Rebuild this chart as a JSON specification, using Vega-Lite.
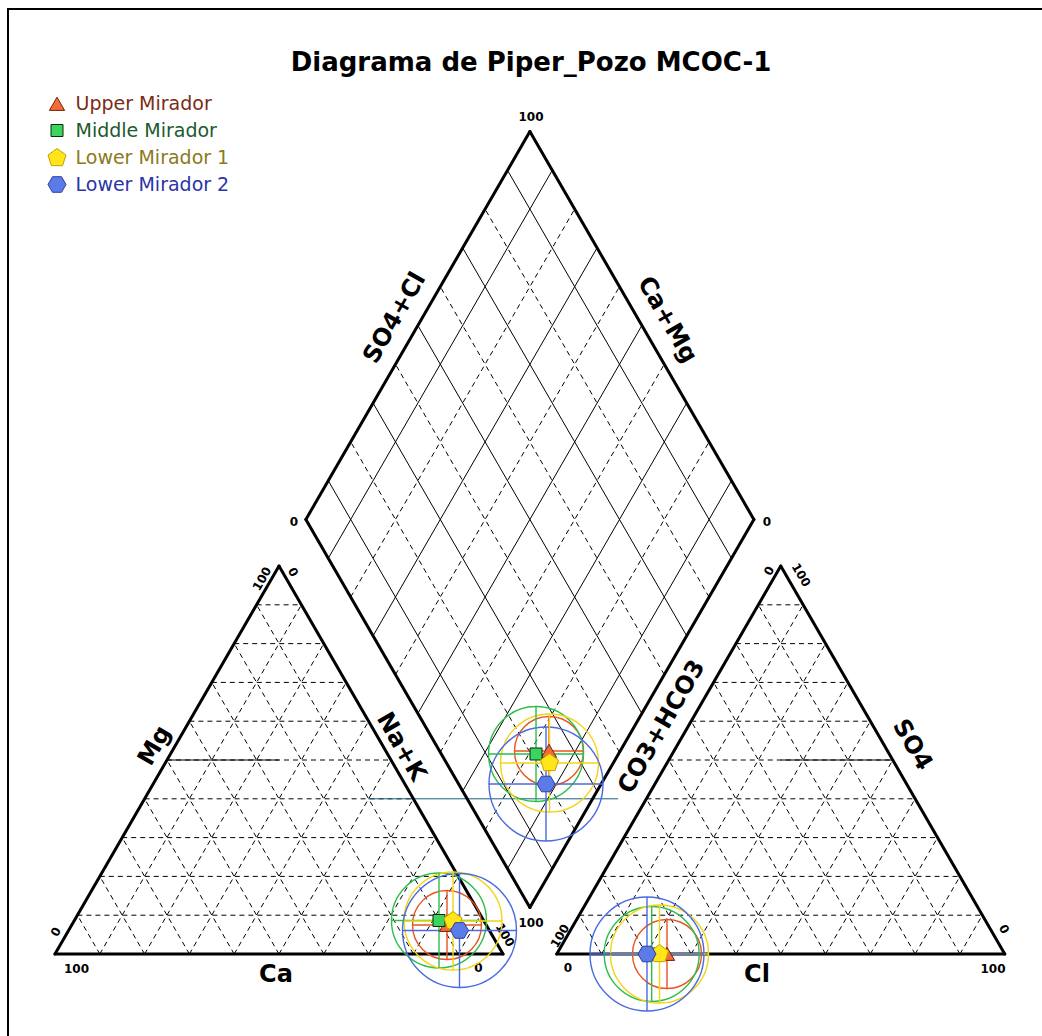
{
  "$schema": "https://vega.github.io/schema/vega-lite/v6.json",
  "width": 1040,
  "height": 1040,
  "autosize": {"type": "none"},
  "padding": {"left": 8, "top": 9, "right": 0, "bottom": 0},
  "background": "white",
  "title": {"text": "Diagrama de Piper_Pozo MCOC-1", "font": "DejaVu Sans", "fontWeight": "bold", "fontSize": 26, "color": "black", "anchor": "middle", "frame": "group", "baseline": "alphabetic", "offset": 0, "dy": 88, "dx": 3},
  "config": {
    "view": {"stroke": "black", "strokeWidth": 2},
    "legend": {"orient": "none", "legendX": 38.5, "legendY": 84.5, "padding": 0, "labelFont": "DejaVu Sans", "labelFontSize": 19, "labelOffset": 8, "rowPadding": 5.5, "symbolSize": 400, "symbolStrokeWidth": 1, "symbolOpacity": 1}
  },
  "datasets": {
    "outline": [
      {"x": 0, "y": 0, "x2": 100, "y2": 0},
      {"x": 100, "y": 0, "x2": 50, "y2": 86.603},
      {"x": 50, "y": 86.603, "x2": 0, "y2": 0},
      {"x": 112, "y": 0, "x2": 212, "y2": 0},
      {"x": 212, "y": 0, "x2": 162, "y2": 86.603},
      {"x": 162, "y": 86.603, "x2": 112, "y2": 0},
      {"x": 106, "y": 10.392, "x2": 56, "y2": 96.995},
      {"x": 56, "y": 96.995, "x2": 106, "y2": 183.598},
      {"x": 106, "y": 183.598, "x2": 156, "y2": 96.995},
      {"x": 156, "y": 96.995, "x2": 106, "y2": 10.392}
    ],
    "solid": [
      {"x": 111, "y": 19.053, "x2": 61, "y2": 105.655},
      {"x": 121, "y": 36.373, "x2": 71, "y2": 122.976},
      {"x": 131, "y": 53.694, "x2": 81, "y2": 140.296},
      {"x": 141, "y": 71.014, "x2": 91, "y2": 157.617},
      {"x": 151, "y": 88.335, "x2": 101, "y2": 174.937},
      {"x": 101, "y": 19.053, "x2": 151, "y2": 105.655},
      {"x": 91, "y": 36.373, "x2": 141, "y2": 122.976},
      {"x": 81, "y": 53.694, "x2": 131, "y2": 140.296},
      {"x": 71, "y": 71.014, "x2": 121, "y2": 157.617},
      {"x": 61, "y": 88.335, "x2": 111, "y2": 174.937},
      {"x": 25, "y": 43.301, "x2": 50, "y2": 43.301},
      {"x": 162, "y": 43.301, "x2": 187, "y2": 43.301}
    ],
    "dashed": [
      {"x": 116, "y": 27.713, "x2": 66, "y2": 114.315},
      {"x": 126, "y": 45.033, "x2": 76, "y2": 131.636},
      {"x": 136, "y": 62.354, "x2": 86, "y2": 148.957},
      {"x": 146, "y": 79.674, "x2": 96, "y2": 166.277},
      {"x": 96, "y": 27.713, "x2": 146, "y2": 114.315},
      {"x": 86, "y": 45.033, "x2": 136, "y2": 131.636},
      {"x": 76, "y": 62.354, "x2": 126, "y2": 148.957},
      {"x": 66, "y": 79.674, "x2": 116, "y2": 166.277},
      {"x": 5, "y": 8.660, "x2": 95, "y2": 8.660},
      {"x": 10, "y": 17.321, "x2": 90, "y2": 17.321},
      {"x": 15, "y": 25.981, "x2": 85, "y2": 25.981},
      {"x": 20, "y": 34.641, "x2": 80, "y2": 34.641},
      {"x": 25, "y": 43.301, "x2": 75, "y2": 43.301},
      {"x": 30, "y": 51.962, "x2": 70, "y2": 51.962},
      {"x": 35, "y": 60.622, "x2": 65, "y2": 60.622},
      {"x": 40, "y": 69.282, "x2": 60, "y2": 69.282},
      {"x": 45, "y": 77.942, "x2": 55, "y2": 77.942},
      {"x": 10, "y": 0, "x2": 55, "y2": 77.942},
      {"x": 20, "y": 0, "x2": 60, "y2": 69.282},
      {"x": 30, "y": 0, "x2": 65, "y2": 60.622},
      {"x": 40, "y": 0, "x2": 70, "y2": 51.962},
      {"x": 50, "y": 0, "x2": 75, "y2": 43.301},
      {"x": 60, "y": 0, "x2": 80, "y2": 34.641},
      {"x": 70, "y": 0, "x2": 85, "y2": 25.981},
      {"x": 80, "y": 0, "x2": 90, "y2": 17.321},
      {"x": 90, "y": 0, "x2": 95, "y2": 8.660},
      {"x": 10, "y": 0, "x2": 5, "y2": 8.660},
      {"x": 20, "y": 0, "x2": 10, "y2": 17.321},
      {"x": 30, "y": 0, "x2": 15, "y2": 25.981},
      {"x": 40, "y": 0, "x2": 20, "y2": 34.641},
      {"x": 50, "y": 0, "x2": 25, "y2": 43.301},
      {"x": 60, "y": 0, "x2": 30, "y2": 51.962},
      {"x": 70, "y": 0, "x2": 35, "y2": 60.622},
      {"x": 80, "y": 0, "x2": 40, "y2": 69.282},
      {"x": 90, "y": 0, "x2": 45, "y2": 77.942},
      {"x": 117, "y": 8.660, "x2": 207, "y2": 8.660},
      {"x": 122, "y": 17.321, "x2": 202, "y2": 17.321},
      {"x": 127, "y": 25.981, "x2": 197, "y2": 25.981},
      {"x": 132, "y": 34.641, "x2": 192, "y2": 34.641},
      {"x": 137, "y": 43.301, "x2": 187, "y2": 43.301},
      {"x": 142, "y": 51.962, "x2": 182, "y2": 51.962},
      {"x": 147, "y": 60.622, "x2": 177, "y2": 60.622},
      {"x": 152, "y": 69.282, "x2": 172, "y2": 69.282},
      {"x": 157, "y": 77.942, "x2": 167, "y2": 77.942},
      {"x": 122, "y": 0, "x2": 167, "y2": 77.942},
      {"x": 132, "y": 0, "x2": 172, "y2": 69.282},
      {"x": 142, "y": 0, "x2": 177, "y2": 60.622},
      {"x": 152, "y": 0, "x2": 182, "y2": 51.962},
      {"x": 162, "y": 0, "x2": 187, "y2": 43.301},
      {"x": 172, "y": 0, "x2": 192, "y2": 34.641},
      {"x": 182, "y": 0, "x2": 197, "y2": 25.981},
      {"x": 192, "y": 0, "x2": 202, "y2": 17.321},
      {"x": 202, "y": 0, "x2": 207, "y2": 8.660},
      {"x": 122, "y": 0, "x2": 117, "y2": 8.660},
      {"x": 132, "y": 0, "x2": 122, "y2": 17.321},
      {"x": 142, "y": 0, "x2": 127, "y2": 25.981},
      {"x": 152, "y": 0, "x2": 132, "y2": 34.641},
      {"x": 162, "y": 0, "x2": 137, "y2": 43.301},
      {"x": 172, "y": 0, "x2": 142, "y2": 51.962},
      {"x": 182, "y": 0, "x2": 147, "y2": 60.622},
      {"x": 192, "y": 0, "x2": 152, "y2": 69.282},
      {"x": 202, "y": 0, "x2": 157, "y2": 77.942}
    ],
    "proj": [
      {"x": 69.9, "y": 34.641, "x2": 125.7, "y2": 34.641}
    ],
    "pts": [
      {"series": "Upper Mirador", "plot": "cation", "x": 87.50, "y": 6.47},
      {"series": "Middle Mirador", "plot": "cation", "x": 85.71, "y": 7.48},
      {"series": "Lower Mirador 1", "plot": "cation", "x": 88.84, "y": 7.37},
      {"series": "Lower Mirador 2", "plot": "cation", "x": 90.29, "y": 5.25},
      {"series": "Upper Mirador", "plot": "anion", "x": 136.61, "y": 0},
      {"series": "Middle Mirador", "plot": "anion", "x": 133.19, "y": 0},
      {"series": "Lower Mirador 1", "plot": "anion", "x": 134.93, "y": 0},
      {"series": "Lower Mirador 2", "plot": "anion", "x": 132.14, "y": 0},
      {"series": "Upper Mirador", "plot": "diamond", "x": 110.27, "y": 45.31},
      {"series": "Middle Mirador", "plot": "diamond", "x": 107.37, "y": 44.64},
      {"series": "Lower Mirador 1", "plot": "diamond", "x": 110.38, "y": 42.63},
      {"series": "Lower Mirador 2", "plot": "diamond", "x": 109.60, "y": 37.95}
    ],
    "labels": [
      {"text": "Ca", "x": 49.33, "y": -4.69, "kind": "title", "dir": "flat"},
      {"text": "Cl", "x": 156.70, "y": -4.69, "kind": "title", "dir": "flat"},
      {"text": "Mg", "x": 22.32, "y": 46.43, "kind": "title", "dir": "up"},
      {"text": "Na+K", "x": 77.23, "y": 46.21, "kind": "title", "dir": "down"},
      {"text": "SO4+Cl", "x": 75.89, "y": 141.96, "kind": "title", "dir": "up"},
      {"text": "Ca+Mg", "x": 136.61, "y": 141.52, "kind": "title", "dir": "down"},
      {"text": "CO3+HCO3", "x": 135.49, "y": 50.67, "kind": "title", "dir": "up"},
      {"text": "SO4", "x": 191.29, "y": 46.65, "kind": "title", "dir": "down"},
      {"text": "100", "x": 106.25, "y": 186.83, "kind": "tick", "dir": "flat"},
      {"text": "0", "x": 53.35, "y": 96.43, "kind": "tick", "dir": "flat"},
      {"text": "0", "x": 158.93, "y": 96.43, "kind": "tick", "dir": "flat"},
      {"text": "100", "x": 106.25, "y": 6.92, "kind": "tick", "dir": "flat"},
      {"text": "100", "x": 4.80, "y": -3.24, "kind": "tick", "dir": "flat"},
      {"text": "0", "x": 94.53, "y": -3.13, "kind": "tick", "dir": "flat"},
      {"text": "0", "x": 0.22, "y": 4.91, "kind": "tick", "dir": "up"},
      {"text": "100", "x": 100.45, "y": 4.24, "kind": "tick", "dir": "down"},
      {"text": "100", "x": 46.21, "y": 83.71, "kind": "tick", "dir": "up"},
      {"text": "0", "x": 53.13, "y": 85.27, "kind": "tick", "dir": "down"},
      {"text": "0", "x": 114.51, "y": -3.13, "kind": "tick", "dir": "flat"},
      {"text": "100", "x": 209.38, "y": -3.24, "kind": "tick", "dir": "flat"},
      {"text": "100", "x": 112.72, "y": 4.02, "kind": "tick", "dir": "up"},
      {"text": "0", "x": 211.83, "y": 5.58, "kind": "tick", "dir": "down"},
      {"text": "0", "x": 159.38, "y": 85.49, "kind": "tick", "dir": "up"},
      {"text": "100", "x": 166.52, "y": 84.60, "kind": "tick", "dir": "down"}
    ]
  },
  "encoding": {
    "x": {"field": "x", "type": "quantitative", "scale": {"domain": [-10.491, 221.652], "nice": false, "zero": false}, "axis": null},
    "y": {"field": "y", "type": "quantitative", "scale": {"domain": [-21.205, 210.938], "nice": false, "zero": false}, "axis": null}
  },
  "layer": [
    {"data": {"name": "dashed"}, "mark": {"type": "rule", "color": "black", "strokeWidth": 1, "strokeDash": [5, 4]}, "encoding": {"x2": {"field": "x2"}, "y2": {"field": "y2"}}},
    {"data": {"name": "solid"}, "mark": {"type": "rule", "color": "black", "strokeWidth": 1}, "encoding": {"x2": {"field": "x2"}, "y2": {"field": "y2"}}},
    {"data": {"name": "proj"}, "mark": {"type": "rule", "color": "#1d5f80", "strokeWidth": 1}, "encoding": {"x2": {"field": "x2"}, "y2": {"field": "y2"}}},
    {"data": {"name": "outline"}, "mark": {"type": "rule", "color": "black", "strokeWidth": 3, "strokeCap": "round"}, "encoding": {"x2": {"field": "x2"}, "y2": {"field": "y2"}}},
    {"data": {"name": "labels"}, "transform": [{"filter": "datum.kind === 'title' && datum.dir === 'flat'"}], "mark": {"type": "text", "align": "center", "baseline": "middle", "font": "DejaVu Sans", "fontWeight": "bold", "fontSize": 24, "color": "black"}, "encoding": {"text": {"field": "text"}}},
    {"data": {"name": "labels"}, "transform": [{"filter": "datum.kind === 'title' && datum.dir === 'up'"}], "mark": {"type": "text", "align": "center", "baseline": "middle", "angle": 300, "font": "DejaVu Sans", "fontWeight": "bold", "fontSize": 24, "color": "black"}, "encoding": {"text": {"field": "text"}}},
    {"data": {"name": "labels"}, "transform": [{"filter": "datum.kind === 'title' && datum.dir === 'down'"}], "mark": {"type": "text", "align": "center", "baseline": "middle", "angle": 60, "font": "DejaVu Sans", "fontWeight": "bold", "fontSize": 24, "color": "black"}, "encoding": {"text": {"field": "text"}}},
    {"data": {"name": "labels"}, "transform": [{"filter": "datum.kind === 'tick' && datum.dir === 'flat'"}], "mark": {"type": "text", "align": "center", "baseline": "middle", "font": "DejaVu Sans", "fontWeight": "bold", "fontSize": 12, "color": "black"}, "encoding": {"text": {"field": "text"}}},
    {"data": {"name": "labels"}, "transform": [{"filter": "datum.kind === 'tick' && datum.dir === 'up'"}], "mark": {"type": "text", "align": "center", "baseline": "middle", "angle": 300, "font": "DejaVu Sans", "fontWeight": "bold", "fontSize": 12, "color": "black"}, "encoding": {"text": {"field": "text"}}},
    {"data": {"name": "labels"}, "transform": [{"filter": "datum.kind === 'tick' && datum.dir === 'down'"}], "mark": {"type": "text", "align": "center", "baseline": "middle", "angle": 60, "font": "DejaVu Sans", "fontWeight": "bold", "fontSize": 12, "color": "black"}, "encoding": {"text": {"field": "text"}}},
    {"data": {"name": "pts"}, "mark": {"type": "point", "shape": "circle", "filled": false, "opacity": 1, "strokeWidth": 1.4},
     "encoding": {
       "color": {"field": "series", "type": "nominal", "scale": {"domain": ["Upper Mirador", "Middle Mirador", "Lower Mirador 1", "Lower Mirador 2"], "range": ["#e8541e", "#2dbe4a", "#f2d514", "#4a6be0"]}, "legend": null},
       "size": {"field": "series", "type": "nominal", "scale": {"type": "ordinal", "domain": ["Upper Mirador", "Middle Mirador", "Lower Mirador 1", "Lower Mirador 2"], "range": [4761, 9025, 9604, 12996]}, "legend": null}
     }},
    {"data": {"name": "pts"}, "mark": {"type": "point", "shape": "M-1,0L1,0M0,-1L0,1", "filled": false, "opacity": 1, "strokeWidth": 1.4},
     "encoding": {
       "color": {"field": "series", "type": "nominal", "scale": {"domain": ["Upper Mirador", "Middle Mirador", "Lower Mirador 1", "Lower Mirador 2"], "range": ["#e8541e", "#2dbe4a", "#f2d514", "#4a6be0"]}, "legend": null},
       "size": {"field": "series", "type": "nominal", "scale": {"type": "ordinal", "domain": ["Upper Mirador", "Middle Mirador", "Lower Mirador 1", "Lower Mirador 2"], "range": [4761, 9025, 9604, 12996]}, "legend": null}
     }},
    {"data": {"name": "pts"}, "mark": {"type": "point", "filled": true, "opacity": 1, "strokeWidth": 1, "size": 400},
     "encoding": {
       "shape": {"field": "series", "type": "nominal", "title": null, "scale": {"domain": ["Upper Mirador", "Middle Mirador", "Lower Mirador 1", "Lower Mirador 2"], "range": ["M0,-0.68L0.76,0.64L-0.76,0.64Z", "M-0.6,-0.6L0.6,-0.6L0.6,0.6L-0.6,0.6Z", "M0,-0.946L0.9,-0.292L0.556,0.765L-0.556,0.765L-0.9,-0.292Z", "M-0.9,0L-0.45,-0.779L0.45,-0.779L0.9,0L0.45,0.779L-0.45,0.779Z"]},
         "legend": {"labelColor": {"expr": "datum.label === 'Upper Mirador' ? '#7b2c16' : datum.label === 'Middle Mirador' ? '#1c5a2e' : datum.label === 'Lower Mirador 1' ? '#8c7a22' : '#2b35a8'"}}},
       "fill": {"field": "series", "type": "nominal", "title": null, "scale": {"domain": ["Upper Mirador", "Middle Mirador", "Lower Mirador 1", "Lower Mirador 2"], "range": ["#f26b3a", "#3ad45e", "#ffe51a", "#5b7be8"]}},
       "stroke": {"field": "series", "type": "nominal", "title": null, "scale": {"domain": ["Upper Mirador", "Middle Mirador", "Lower Mirador 1", "Lower Mirador 2"], "range": ["#7a2000", "#0a2a0a", "#c0a000", "#2a3fa0"]}}
     }}
  ],
  "resolve": {"legend": {"shape": "independent", "fill": "independent", "stroke": "independent"}}
}
